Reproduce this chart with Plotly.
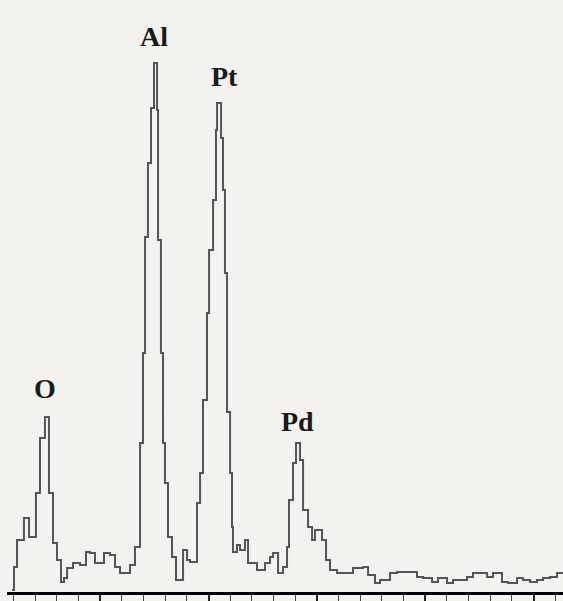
import plotly.graph_objects as go

# EDS spectrum: energy (keV) and counts (step-wise channels)
energy_kev = [0.185, 0.203, 0.231, 0.295, 0.342, 0.406, 0.443, 0.489, 0.526, 0.563,
              0.600, 0.637, 0.665, 0.693, 0.748, 0.813, 0.868, 0.905, 0.951, 1.034,
              1.090, 1.136, 1.182, 1.274, 1.320, 1.367, 1.394, 1.413, 1.440, 1.468,
              1.496, 1.524, 1.533, 1.560, 1.579, 1.597, 1.625, 1.662, 1.699, 1.736,
              1.764, 1.801, 1.828, 1.893, 1.921, 1.948, 1.985, 2.004, 2.041, 2.068,
              2.078, 2.115, 2.133, 2.151, 2.170, 2.198, 2.216, 2.225, 2.262, 2.290,
              2.336, 2.364, 2.447, 2.521, 2.567, 2.595, 2.641, 2.687, 2.724, 2.742,
              2.779, 2.807, 2.844, 2.872, 2.918, 2.955, 2.982, 3.010, 3.047, 3.084,
              3.121, 3.186, 3.306, 3.333, 3.426, 3.472, 3.536, 3.583, 3.629, 3.675,
              3.740, 3.860, 3.924, 3.980, 4.063, 4.118, 4.201, 4.257, 4.321, 4.386,
              4.441, 4.506, 4.571, 4.626, 4.709, 4.765, 4.848, 4.903, 4.968, 5.032,
              5.088, 5.152, 5.217, 5.272]
counts = [2, 25, 52, 74, 55, 99, 154, 175, 99, 49,
          32, 10, 14, 24, 29, 27, 40, 39, 29, 39,
          37, 25, 19, 27, 45, 149, 239, 355, 429, 484,
          529, 482, 352, 239, 149, 109, 55, 35, 12, 12,
          42, 32, 30, 89, 119, 192, 279, 342, 392, 462,
          489, 454, 402, 319, 180, 119, 65, 40, 47, 42,
          52, 29, 22, 29, 35, 39, 19, 25, 45, 92,
          129, 149, 132, 82, 65, 52, 62, 62, 52, 32,
          22, 19, 19, 24, 25, 17, 9, 12, 12, 19,
          20, 20, 15, 14, 10, 14, 9, 12, 12, 15,
          19, 19, 15, 19, 10, 9, 14, 12, 10, 12,
          14, 15, 19, 19]

peak_labels = ["O", "Al", "Pt", "Pd"]
peak_energy = [0.489, 1.496, 2.142, 2.816]
peak_label_y = [204, 556, 516, 171]

major_ticks = [1, 2, 3, 4, 5]

bg = "#f4f2ee"

fig = go.Figure()
fig.add_trace(go.Scatter(
    x=energy_kev, y=counts, mode="lines",
    line=dict(shape="hv", color="#555555", width=2),
    hoverinfo="skip", showlegend=False,
))

for lab, ex, ey in zip(peak_labels, peak_energy, peak_label_y):
    fig.add_annotation(
        x=ex, y=ey, text=f"<b>{lab}</b>", showarrow=False,
        font=dict(family="Liberation Serif, Times New Roman, serif", size=28, color="#1a1a1a"),
        xanchor="center", yanchor="middle",
    )

fig.update_layout(
    width=563, height=601,
    margin=dict(l=7, r=0, t=0, b=9, pad=0),
    paper_bgcolor=bg, plot_bgcolor=bg,
    xaxis=dict(
        range=[0.1385, 5.272], showgrid=False, zeroline=False,
        showline=True, linecolor="#000", linewidth=3,
        tickvals=major_ticks, ticks="outside", ticklen=9, tickwidth=1.5,
        tickcolor="#222", showticklabels=False,
        minor=dict(dtick=0.2, tick0=0, ticks="outside", ticklen=7,
                   tickwidth=1, tickcolor="#444"),
    ),
    yaxis=dict(range=[0, 592], visible=False, showgrid=False, zeroline=False),
)

fig.write_html(
    "out.html",
    config={"displayModeBar": False},
    post_script="document.body.style.margin='0';document.body.style.overflow='hidden';"
                "document.body.style.background='" + bg + "';",
)
